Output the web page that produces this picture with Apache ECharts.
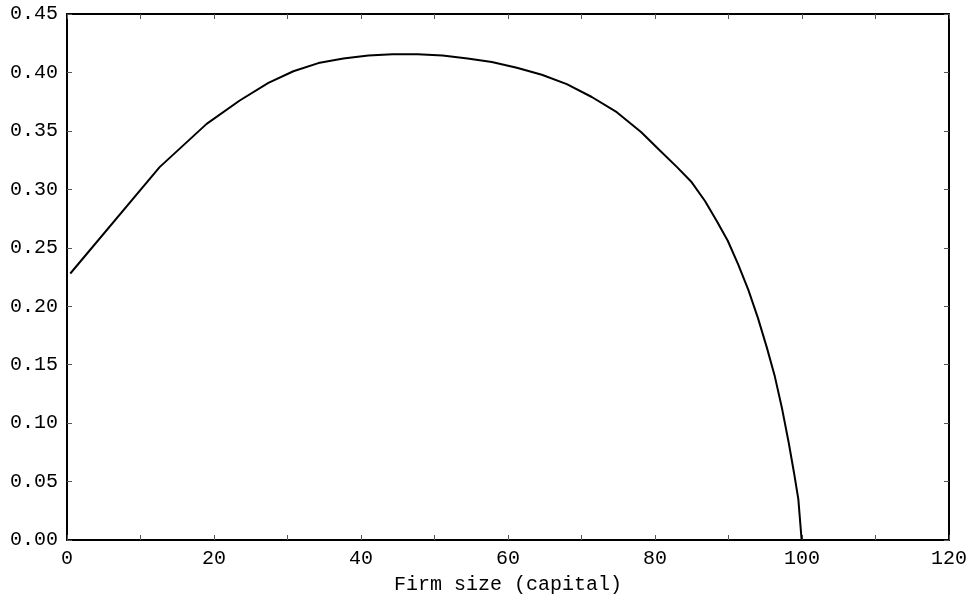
<!DOCTYPE html>
<html>
<head>
<meta charset="utf-8">
<script src="https://cdn.jsdelivr.net/npm/echarts@6/dist/echarts.min.js"></script>
<style>
  html, body { margin: 0; padding: 0; background: #ffffff; }
  #chart { width: 975px; height: 611px; }
</style>
</head>
<body>
<div id="chart"></div>
<script>
// Firm size (capital) on the horizontal axis
const firmSize = [0.45, 12.6, 19.0, 23.5, 27.4, 30.8, 34.2, 37.6, 41.0, 44.3, 47.7, 51.1,
  54.5, 57.8, 61.2, 64.6, 68.0, 71.4, 74.8, 78.1, 80.7, 83.0, 85.0, 86.8, 88.4, 89.9,
  91.3, 92.7, 94.0, 95.2, 96.3, 97.3, 98.2, 98.9, 99.5, 99.95];
// Curve value at each firm size
const curveValues = [0.228, 0.319, 0.356, 0.376, 0.391, 0.401, 0.408, 0.412, 0.4145, 0.4155, 0.4155, 0.4145,
  0.412, 0.409, 0.404, 0.398, 0.390, 0.379, 0.366, 0.349, 0.333, 0.319, 0.306, 0.290, 0.273, 0.256,
  0.236, 0.214, 0.190, 0.165, 0.140, 0.112, 0.083, 0.058, 0.035, 0.0];

const xTicks = { min: 0, max: 120, step: 10, labelStep: 20 };
const yTicks = { min: 0, max: 0.45, step: 0.05 };
const xTitle = 'Firm size (capital)';

const FONT = '"Liberation Mono", monospace';
const axisLine = { show: true, onZero: false, lineStyle: { color: '#000', width: 2 } };
const tick = { show: true, inside: true, length: 5, lineStyle: { color: '#555', width: 1 } };

const chart = echarts.init(document.getElementById('chart'), null, { renderer: 'canvas' });
chart.setOption({
  animation: false,
  backgroundColor: '#ffffff',
  grid: { left: 67, right: 26, top: 14, bottom: 71, containLabel: false },
  xAxis: [
    {
      type: 'value', position: 'bottom',
      min: xTicks.min, max: xTicks.max, interval: xTicks.step,
      axisLine: axisLine, axisTick: tick, splitLine: { show: false },
      axisLabel: {
        color: '#000', fontFamily: FONT, fontSize: 20, margin: 9,
        formatter: v => (Math.round(v) % xTicks.labelStep === 0 ? String(Math.round(v)) : '')
      },
      name: xTitle, nameLocation: 'middle', nameGap: 35,
      nameTextStyle: { color: '#000', fontFamily: FONT, fontSize: 20, verticalAlign: 'top' }
    },
    {
      type: 'value', position: 'top',
      min: xTicks.min, max: xTicks.max, interval: xTicks.step,
      axisLine: axisLine, axisTick: tick, splitLine: { show: false },
      axisLabel: { show: false }
    }
  ],
  yAxis: [
    {
      type: 'value', position: 'left',
      min: yTicks.min, max: yTicks.max, interval: yTicks.step,
      axisLine: axisLine, axisTick: tick, splitLine: { show: false },
      axisLabel: {
        color: '#000', fontFamily: FONT, fontSize: 20, margin: 9,
        formatter: v => v.toFixed(2)
      }
    },
    {
      type: 'value', position: 'right',
      min: yTicks.min, max: yTicks.max, interval: yTicks.step,
      axisLine: axisLine, axisTick: tick, splitLine: { show: false },
      axisLabel: { show: false }
    }
  ],
  series: [
    {
      type: 'line',
      xAxisIndex: 0, yAxisIndex: 0,
      data: firmSize.map((x, i) => [x, curveValues[i]]),
      showSymbol: false, smooth: false,
      lineStyle: { color: '#000', width: 2 },
      clip: true
    }
  ]
});
</script>
</body>
</html>
